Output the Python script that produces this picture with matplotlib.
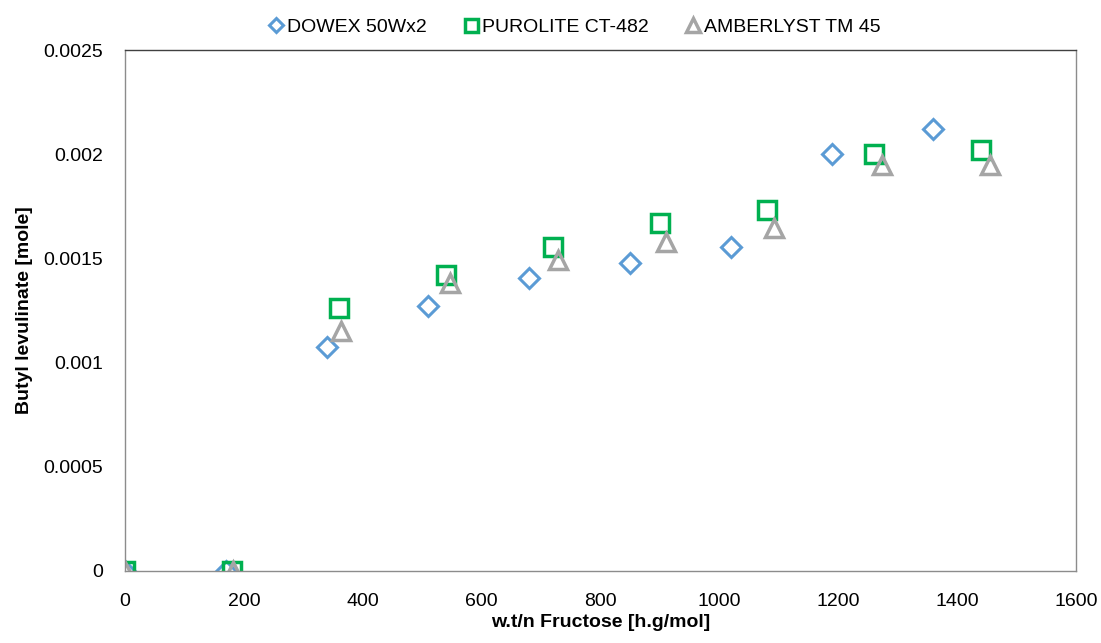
import matplotlib.pyplot as plt

# butyl levulinate yield against w.t/n for three resins
dowex_x = [0, 170, 340, 510, 680, 850, 1020, 1190, 1360]
dowex_y = [0, 0, 0.001075, 0.00127, 0.001405, 0.001478, 0.001555, 0.002, 0.00212]

purolite_x = [0, 180, 360, 540, 720, 900, 1080, 1260, 1440]
purolite_y = [0, 0, 0.00126, 0.00142, 0.001555, 0.00167, 0.00173, 0.002, 0.00202]

amberlyst_x = [0, 182, 364, 546, 728, 910, 1092, 1274, 1456]
amberlyst_y = [0, 0, 0.00115, 0.00138, 0.00149, 0.00158, 0.001648, 0.00195, 0.00195]

plt.rcParams['font.family'] = ['Liberation Sans', 'DejaVu Sans']

fig = plt.figure(figsize=(11.01, 6.43), dpi=100)
ax = fig.add_axes([0.1135, 0.112, 0.8638, 0.8102])

ax.plot(dowex_x, dowex_y, linestyle='none', marker='D', markersize=10.5,
        markerfacecolor='none', markeredgecolor='#5b9bd5', markeredgewidth=2.2,
        label='DOWEX 50Wx2')
ax.plot(purolite_x, purolite_y, linestyle='none', marker='s', markersize=13,
        markerfacecolor='none', markeredgecolor='#00b050', markeredgewidth=2.5,
        label='PUROLITE CT-482')
ax.plot(amberlyst_x, amberlyst_y, linestyle='none', marker='^', markersize=13.5,
        markerfacecolor='none', markeredgecolor='#a5a5a5', markeredgewidth=2.5,
        label='AMBERLYST TM 45')

ax.set_xlim(0, 1600)
ax.set_ylim(0, 0.0025)
ax.set_xticks(range(0, 1601, 200))
ax.set_yticks([0, 0.0005, 0.001, 0.0015, 0.002, 0.0025])
ax.set_yticklabels(['0', '0.0005', '0.001', '0.0015', '0.002', '0.0025'])
ax.tick_params(length=0, labelsize=14)
ax.tick_params(axis='x', pad=16)
ax.tick_params(axis='y', pad=16)

for s in ax.spines.values():
    s.set_color('#8c8c8c')
    s.set_linewidth(1)
ax.spines['top'].set_color('#404040')

ax.set_xlabel('w.t/n Fructose [h.g/mol]', fontsize=14, fontweight='bold', labelpad=3)
ax.set_ylabel('Butyl levulinate [mole]', fontsize=14, fontweight='bold', labelpad=7)

fig.legend(handles=ax.get_lines(), loc='center', bbox_to_anchor=(0.521, 0.958),
           ncol=3, frameon=False, fontsize=14, handlelength=1.0,
           handletextpad=0.05, columnspacing=1.8, markerscale=0.72)

fig.savefig('out.png', dpi=100)
